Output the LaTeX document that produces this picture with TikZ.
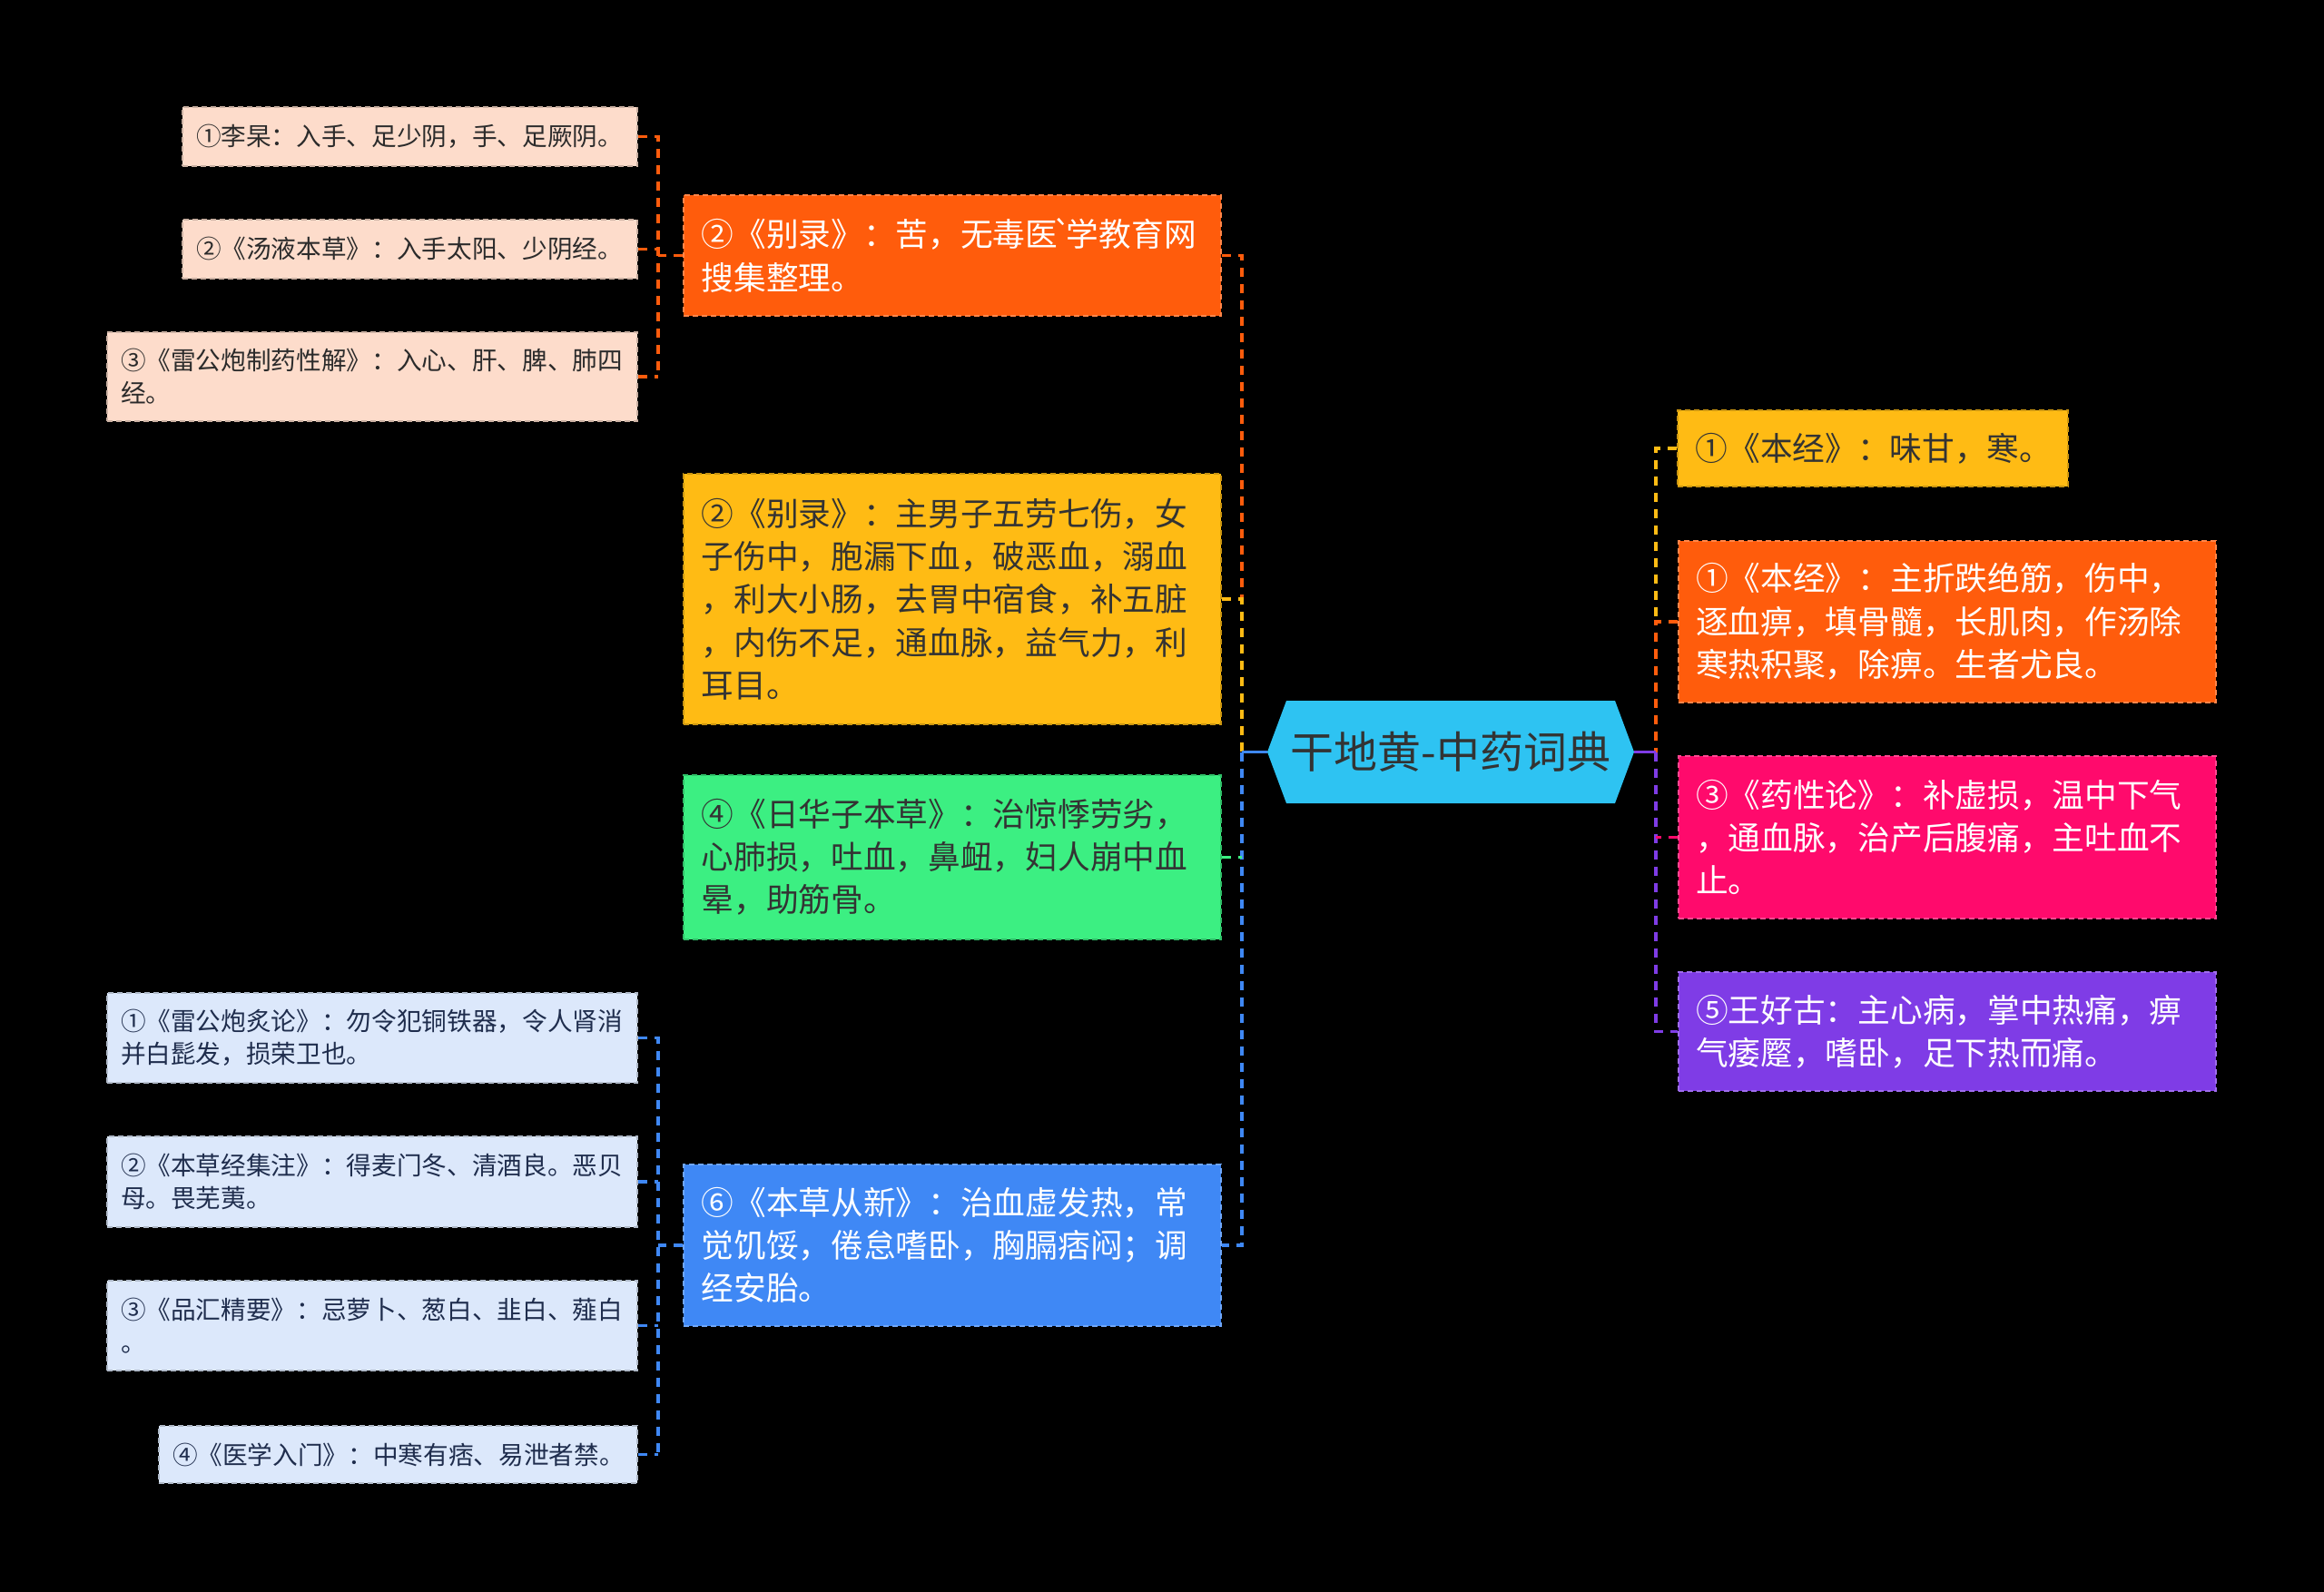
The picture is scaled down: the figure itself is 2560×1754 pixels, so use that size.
\documentclass[tikz,border=0pt]{standalone}
\usepackage{fontspec}
\newfontfamily\cjk{Noto Sans CJK SC}[Ligatures=ResetAll]
\newcommand\fA{\cjk\fontsize{17.85pt}{23.65pt}\selectfont}
\newcommand\fB{\cjk\fontsize{13.83pt}{18pt}\selectfont}
\newcommand\fC{\cjk\fontsize{24pt}{28pt}\selectfont}
\definecolor{cO}{HTML}{FF5C0C}
\definecolor{cY}{HTML}{FFBB14}
\definecolor{cG}{HTML}{3CEF82}
\definecolor{cB}{HTML}{3F88F5}
\definecolor{cP}{HTML}{FF0A6C}
\definecolor{cV}{HTML}{7F3CE6}
\definecolor{cC}{HTML}{2EC3F2}
\definecolor{cPe}{HTML}{FDDCCB}
\definecolor{cLb}{HTML}{DCE8FB}
\definecolor{tD}{HTML}{333333}
\definecolor{tPe}{HTML}{2B2B2B}
\definecolor{tLb}{HTML}{1F2D4D}
\begin{document}
\begin{tikzpicture}[x=0.5pt,y=-0.5pt,
  lvA/.style={rectangle, inner xsep=9.8pt, inner ysep=0pt, align=left, font=\fA,
    text width=276.4pt, line width=1pt, dash pattern=on 3pt off 2pt},
  lvB/.style={rectangle, inner xsep=7.5pt, inner ysep=0pt, align=left, font=\fB,
    line width=1pt, dash pattern=on 3pt off 2pt},
  peach/.style={lvB, fill=cPe, draw=cPe!80!black, text=tPe},
  lblue/.style={lvB, fill=cLb, draw=cLb!80!black, text=tLb},
  conn/.style={line width=1.6pt, dash pattern=on 5pt off 4pt},
  solidc/.style={line width=1.6pt},
]
\fill[black] (0,0) rectangle (2560,1754);
\useasboundingbox (0,0) rectangle (2560,1754);

% central hexagon
\fill[cC] (1417,772) -- (1779,772) -- (1800,828.5) -- (1779,885) -- (1417,885) -- (1396,828.5) -- cycle;
\node[minimum width=202pt, minimum height=56.5pt, inner sep=0pt, font=\fC, text=tD] (c) at (1598,828.5) {干地黄-中药词典};

\coordinate (ls) at (1368,828.5);
\coordinate (rs) at (1824,828.5);

% left level 1
\node[lvA, fill=cO, draw=cO!75!white, text=white, minimum height=66.5pt] (L1) at (1049,281.5)
  {②《别录》：苦，无毒医\kern-3pt`\kern-3pt学教育网\\搜集整理。};
\node[lvA, fill=cY, draw=cY!80!black, text=tD, minimum height=138pt] (L2) at (1049,660)
  {②《别录》：主男子五劳七伤，女\\子伤中，胞漏下血，破恶血，溺血\\，利大小肠，去胃中宿食，补五脏\\，内伤不足，通血脉，益气力，利\\耳目。};
\node[lvA, fill=cG, draw=cG!80!black, text=tD, minimum height=90.5pt] (L3) at (1049,944.5)
  {④《日华子本草》：治惊悸劳劣，\\心肺损，吐血，鼻衄，妇人崩中血\\晕，助筋骨。};
\node[lvA, fill=cB, draw=cB!75!white, text=white, minimum height=89pt] (L4) at (1049,1372)
  {⑥《本草从新》：治血虚发热，常\\觉饥馁，倦怠嗜卧，胸膈痞闷；调\\经安胎。};

% right level 1
\node[lvA, text width=195.4pt, fill=cY, draw=cY!80!black, text=tD, minimum height=42pt] (R1) at (2063,494)
  {①《本经》：味甘，寒。};
\node[lvA, fill=cO, draw=cO!75!white, text=white, minimum height=89pt] (R2) at (2144.5,685)
  {①《本经》：主折跌绝筋，伤中，\\逐血痹，填骨髓，长肌肉，作汤除\\寒热积聚，除痹。生者尤良。};
\node[lvA, fill=cP, draw=cP!75!white, text=white, minimum height=89.5pt] (R3) at (2144.5,922.5)
  {③《药性论》：补虚损，温中下气\\，通血脉，治产后腹痛，主吐血不\\止。};
\node[lvA, fill=cV, draw=cV!75!white, text=white, minimum height=65.5pt] (R4) at (2144.5,1136.5)
  {⑤王好古：主心病，掌中热痛，痹\\气痿蹷，嗜卧，足下热而痛。};

% left level 2 (orange group)
\node[peach, text width=235.5pt, minimum height=32.5pt] (a1) at (451.5,150.5)
  {①李杲：入手、足少阴，手、足厥阴。};
\node[peach, text width=235.5pt, minimum height=32.5pt] (a2) at (451.5,274.5)
  {②《汤液本草》：入手太阳、少阴经。};
\node[peach, text width=277pt, minimum height=49pt] (a3) at (410,415)
  {③《雷公炮制药性解》：入心、肝、脾、肺四\\经。};

% left level 2 (blue group)
\node[lblue, text width=277pt, minimum height=49.5pt] (b1) at (410,1143.5)
  {①《雷公炮炙论》：勿令犯铜铁器，令人肾消\\并白髭发，损荣卫也。};
\node[lblue, text width=277pt, minimum height=50pt] (b2) at (410,1302)
  {②《本草经集注》：得麦门冬、清酒良。恶贝\\母。畏芜荑。};
\node[lblue, text width=277pt, minimum height=49.5pt] (b3) at (410,1460.5)
  {③《品汇精要》：忌萝卜、葱白、韭白、薤白\\。};
\node[lblue, text width=248.5pt, minimum height=31.5pt] (b4) at (438.5,1602.5)
  {④《医学入门》：中寒有痞、易泄者禁。};

% connectors centre -> left level 1
\draw[conn, cO] (L1.east) -| (L2.east -| ls);
\draw[conn, cY] (L2.east) -| (ls);
\draw[conn, cB] (ls) |- (L4.east);
\draw[conn, cG] (L3.east) -- (L3.east -| ls);
\draw[solidc, cB] (c.west) -- (ls);

% connectors centre -> right level 1
\draw[conn, cY] (R1.west) -| (R2.west -| rs);
\draw[conn, cO] (R2.west) -| (rs);
\draw[conn, cV] (rs) |- (R4.west);
\draw[conn, cP] (R3.west) -- (R3.west -| rs);
\draw[solidc, cV] (c.east) -- (rs);

% level 2 connectors
\coordinate (lo) at (725,281.5);
\draw[conn, cO] (L1.west) -- (lo);
\draw[conn, cO] (a1.east) -| (a3.east -| lo);
\draw[conn, cO] (a2.east) -- (a2.east -| lo);
\draw[conn, cO] (a3.east) -- (a3.east -| lo);

\coordinate (lb) at (725,1372);
\draw[conn, cB] (L4.west) -- (lb);
\draw[conn, cB] (b1.east) -| (b4.east -| lb);
\draw[conn, cB] (b2.east) -- (b2.east -| lb);
\draw[conn, cB] (b3.east) -- (b3.east -| lb);
\draw[conn, cB] (b4.east) -- (b4.east -| lb);
\end{tikzpicture}
\end{document}
